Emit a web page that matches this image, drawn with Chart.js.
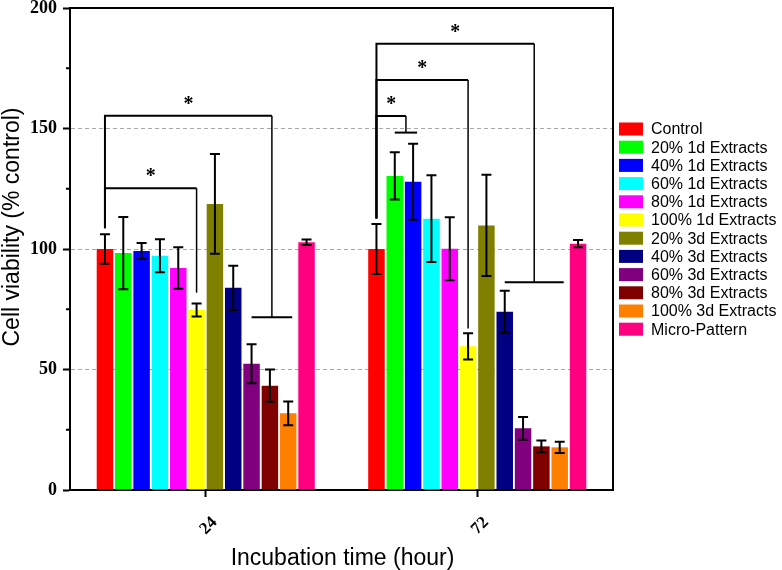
<!DOCTYPE html>
<html>
<head>
<meta charset="utf-8">
<script src="https://cdn.jsdelivr.net/npm/chart.js@4.4.0/dist/chart.umd.min.js"></script>
<style>
  html, body { margin: 0; padding: 0; background: #fff; }
  #wrap { width: 782px; height: 570px; }
</style>
</head>
<body>
<div id="wrap"><canvas id="chart" width="782" height="570"></canvas></div>
<script>
// ---------- Data ----------
const timePoints = ['24', '72'];
const groupNames = [
  'Control', '20% 1d Extracts', '40% 1d Extracts', '60% 1d Extracts',
  '80% 1d Extracts', '100% 1d Extracts', '20% 3d Extracts', '40% 3d Extracts',
  '60% 3d Extracts', '80% 3d Extracts', '100% 3d Extracts', 'Micro-Pattern'
];
const groupColors = [
  '#FF0000', '#00FF00', '#0000FF', '#00FFFF', '#FF00FF', '#FFFF00',
  '#808000', '#000080', '#800080', '#800000', '#FF8000', '#FF0080'
];
const viability24 = [100, 98.3, 99.2, 97.2, 92.1, 74.7, 118.7, 83.9, 52.4, 43.3, 31.8, 102.8];
const viability72 = [100, 130.3, 127.9, 112.6, 100.1, 59.6, 109.8, 74.0, 25.6, 18.1, 17.7, 102.2];
const sd24 = [6.1, 15.0, 3.3, 6.8, 8.6, 2.7, 20.7, 9.2, 8.1, 6.7, 4.9, 1.1];
const sd72 = [10.4, 9.8, 15.8, 18.0, 13.1, 5.4, 21.0, 8.7, 4.7, 2.4, 2.3, 1.5];
const yTicks = [0, 50, 100, 150, 200];
const yMinorTicks = [25, 75, 125, 175];

// significance brackets: time index, left series, right series (one bar or a span), levels in % control
const brackets = [
  { time: 0, left: 0, right: [5], top: 125.2, leftEnd: 108.6, rightEnd: 81.9 },
  { time: 0, left: 0, right: [8, 10], top: 155.3, leftEnd: 108.6, rightEnd: 71.7 },
  { time: 1, left: 0, right: [1, 2], top: 155.2, leftEnd: 112.7, rightEnd: 148.3 },
  { time: 1, left: 0, right: [5], top: 170.1, leftEnd: 112.7, rightEnd: 67.0 },
  { time: 1, left: 0, right: [7, 10], top: 185.2, leftEnd: 112.7, rightEnd: 86.2 }
];

const xTitle = 'Incubation time (hour)';
const yTitle = 'Cell viability (% control)';

// ---------- Extra marks: error bars, brackets, frame, legend, titles ----------
const marksPlugin = {
  id: 'marks',
  afterDatasetsDraw(chart) {
    const { ctx } = chart;
    const y = chart.scales.y;
    const barX = (t, s) => chart.getDatasetMeta(s).data[t].x;

    // error bars
    ctx.save();
    ctx.strokeStyle = '#000';
    ctx.lineWidth = 2;
    chart.data.datasets.forEach((ds, i) => {
      chart.getDatasetMeta(i).data.forEach((bar, j) => {
        const v = ds.data[j], e = ds.errors[j];
        const top = y.getPixelForValue(v + e);
        const bot = y.getPixelForValue(v - e);
        ctx.beginPath();
        ctx.moveTo(bar.x, top); ctx.lineTo(bar.x, bot);
        ctx.moveTo(bar.x - 5, top); ctx.lineTo(bar.x + 5, top);
        ctx.moveTo(bar.x - 5, bot); ctx.lineTo(bar.x + 5, bot);
        ctx.stroke();
      });
    });

    // brackets + stars
    brackets.forEach(b => {
      const xl = barX(b.time, b.left);
      let xr;
      const yTop = y.getPixelForValue(b.top);
      const yR = y.getPixelForValue(b.rightEnd);
      if (b.right.length === 1) {
        xr = barX(b.time, b.right[0]);
      } else {
        const xa = barX(b.time, b.right[0]);
        const xb = barX(b.time, b.right[1]) + 4;
        xr = (xa + xb) / 2;
        ctx.lineWidth = 2;
        ctx.beginPath(); ctx.moveTo(xa, yR); ctx.lineTo(xb, yR); ctx.stroke();
      }
      ctx.lineWidth = 2;
      ctx.beginPath();
      ctx.moveTo(xl, y.getPixelForValue(b.leftEnd));
      ctx.lineTo(xl, yTop);
      ctx.lineTo(xr, yTop);
      ctx.stroke();
      ctx.lineWidth = 1.5;
      ctx.beginPath(); ctx.moveTo(xr, yTop); ctx.lineTo(xr, yR); ctx.stroke();

      ctx.fillStyle = '#000';
      ctx.font = 'bold 20px "Liberation Serif"';
      ctx.textAlign = 'center';
      ctx.textBaseline = 'alphabetic';
      ctx.fillText('*', (xl + xr) / 2, yTop - 6);
    });
    ctx.restore();
  },
  afterDraw(chart) {
    const { ctx, chartArea: a } = chart;
    const { x, y } = chart.scales;
    ctx.save();
    ctx.strokeStyle = '#000';
    ctx.lineWidth = 2;
    // top and right frame
    ctx.beginPath();
    ctx.moveTo(a.left, a.top); ctx.lineTo(a.right, a.top); ctx.lineTo(a.right, a.bottom);
    ctx.stroke();
    // minor ticks
    yMinorTicks.forEach(v => {
      const py = y.getPixelForValue(v);
      ctx.beginPath(); ctx.moveTo(a.left - 4, py); ctx.lineTo(a.left, py); ctx.stroke();
    });
    // rotated x tick labels
    ctx.fillStyle = '#000';
    ctx.font = 'bold 17px "Liberation Serif"';
    ctx.textAlign = 'center';
    ctx.textBaseline = 'middle';
    chart.data.labels.forEach((lbl, i) => {
      ctx.save();
      ctx.translate(x.getPixelForTick(i) + 3, a.bottom + 36);
      ctx.rotate(-Math.PI / 4);
      ctx.fillText(lbl, 0, 0);
      ctx.restore();
    });
    // axis titles
    ctx.font = '23px "Liberation Sans"';
    ctx.textBaseline = 'alphabetic';
    ctx.fillText(xTitle, (a.left + a.right) / 2 + 1, 565);
    ctx.save();
    ctx.translate(19, 227);
    ctx.rotate(-Math.PI / 2);
    ctx.fillText(yTitle, 0, 0);
    ctx.restore();

    // legend, built from the datasets
    ctx.font = '16px "Liberation Sans"';
    ctx.textAlign = 'left';
    ctx.textBaseline = 'middle';
    chart.data.datasets.forEach((ds, i) => {
      const cy = 129 + i * 18.2;
      ctx.fillStyle = ds.backgroundColor;
      ctx.fillRect(a.right + 6, cy - 6.5, 24, 13);
      ctx.fillStyle = '#000';
      ctx.fillText(ds.label, a.right + 38, cy + 1);
    });
    ctx.restore();
  }
};

// ---------- Chart ----------
const datasets = groupNames.map((name, i) => ({
  label: name,
  data: [viability24[i], viability72[i]],
  errors: [sd24[i], sd72[i]],
  backgroundColor: groupColors[i],
  borderWidth: 0,
  barPercentage: 0.9,
  categoryPercentage: 0.81
}));

new Chart(document.getElementById('chart'), {
  type: 'bar',
  data: { labels: timePoints, datasets },
  options: {
    responsive: false,
    animation: false,
    layout: { padding: { top: 8, right: 169, left: 0, bottom: 0 } },
    plugins: {
      tooltip: { enabled: false },
      legend: { display: false }
    },
    scales: {
      x: {
        offset: true,
        grid: {
          display: true, drawOnChartArea: false, drawTicks: true, offset: false,
          tickLength: 7, tickWidth: 2, tickColor: '#000'
        },
        border: { display: true, color: '#000', width: 2 },
        ticks: { display: false },
        afterFit: s => { s.height = 80; }
      },
      y: {
        min: 0,
        max: 200,
        ticks: {
          stepSize: 25,
          padding: 6,
          color: '#000',
          font: { family: 'Liberation Serif', size: 18, weight: 'bold' },
          callback: v => yTicks.includes(v) ? v : ''
        },
        grid: {
          color: c => (c.tick && [50, 100, 150].includes(c.tick.value)) ? '#a8a8a8' : 'transparent',
          lineWidth: 1,
          tickLength: 7,
          tickWidth: 2,
          tickColor: c => (c.tick && yTicks.includes(c.tick.value)) ? '#000' : 'transparent'
        },
        border: { display: true, color: '#000', width: 2, dash: [4, 3] },
        afterFit: s => { s.width = 70; s.paddingTop = 0; s.paddingBottom = 0; }
      }
    }
  },
  plugins: [marksPlugin]
});
</script>
</body>
</html>
